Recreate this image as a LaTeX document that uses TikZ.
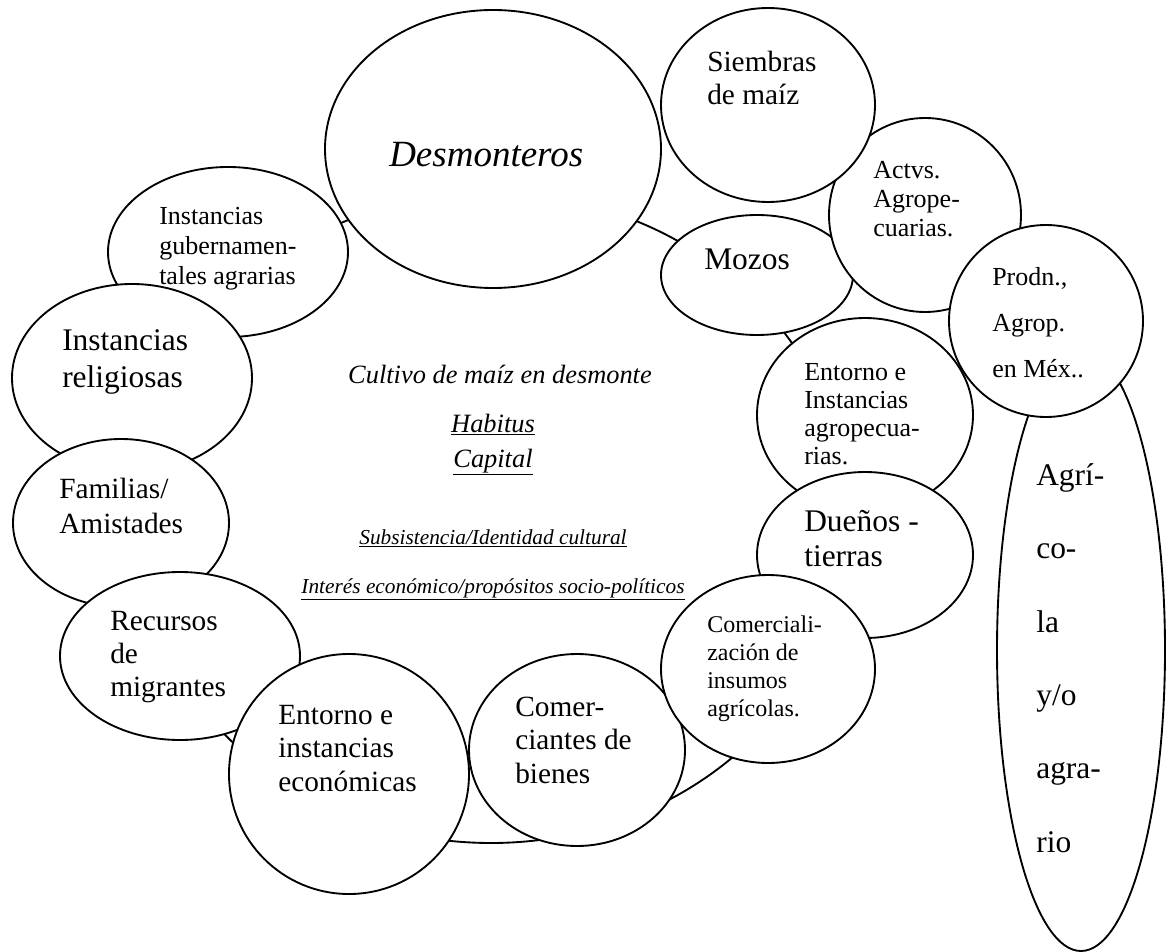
\documentclass[tikz,border=0pt]{standalone}
\usepackage{fontspec}
\setmainfont{Liberation Serif}
\usepackage{tikz}

\tikzset{
  bubble/.style={draw, line width=1.4pt, fill=white},
  lbl/.style={anchor=base west, inner sep=0pt, align=left},
  bigtxt/.style={font=\fontsize{23.6pt}{27.75pt}\selectfont},
  midtxt/.style={font=\fontsize{22pt}{25pt}\selectfont},
  smltxt/.style={font=\fontsize{19.5pt}{22.5pt}\selectfont},
  tnytxt/.style={font=\fontsize{18pt}{20.8pt}\selectfont}
}

\begin{document}
\begin{tikzpicture}[x=0.75pt, y=-0.75pt]
  \useasboundingbox (0,0) rectangle (1167,952);
  % outer ring behind the bubbles
  \draw[line width=1.4pt] (491,518) ellipse [x radius=357, y radius=325];

  % top (label coordinates give the baseline of the last line)
  \draw[bubble] (493,149) ellipse [x radius=168, y radius=139];
  \node[lbl, font=\fontsize{27.75pt}{32pt}\selectfont\itshape] (desmtxt) at (389,167) {Desmonteros};
  \draw[bubble] (757,275) ellipse [x radius=96, y radius=60];
  \node[lbl, bigtxt] (mozotxt) at (704,270) {Mozos};
  \draw[bubble] (925,215) ellipse [x radius=96, y radius=97];
  \node[lbl, font=\fontsize{19.5pt}{22pt}\selectfont] (actvtxt) at (873,237) {Actvs.\\Agrope-\\cuarias.};
  \draw[bubble] (768,105) ellipse [x radius=107, y radius=97];
  \node[lbl, font=\fontsize{22pt}{24.75pt}\selectfont] (siemtxt) at (707,105) {Siembras\\de maíz};

  % right side
  \draw[bubble] (1081,650) ellipse [x radius=84, y radius=301];
  \node[lbl, font=\fontsize{23.6pt}{55pt}\selectfont] (agritxt) at (1036,852)
    {Agrí-\\co-\\la\\y/o\\agra-\\rio};
  \draw[bubble] (865,415) ellipse [x radius=108, y radius=97];
  \node[lbl, font=\fontsize{19.5pt}{21pt}\selectfont] (agrotxt) at (804,464)
    {Entorno e\\Instancias\\agropecua-\\rias.};
  \draw[bubble] (1046,321) ellipse [x radius=97, y radius=96];
  \node[lbl, font=\fontsize{19.5pt}{34.5pt}\selectfont] (prodtxt) at (992,377) {Prodn.,\\Agrop.\\en Méx..};
  \draw[bubble] (865,555) ellipse [x radius=108, y radius=83];
  \node[lbl, font=\fontsize{23.6pt}{26.25pt}\selectfont] (duentxt) at (804,566) {Dueños -\\tierras};

  % left side
  \draw[bubble] (228,252) ellipse [x radius=120, y radius=85];
  \node[lbl, smltxt] (gubtxt) at (159,285) {Instancias\\gubernamen-\\tales agrarias};
  \draw[bubble] (132,378) ellipse [x radius=120, y radius=94];
  \node[lbl, bigtxt] (reltxt) at (62,387) {Instancias\\religiosas};
  \draw[bubble] (121,523) ellipse [x radius=108, y radius=84];
  \node[lbl, font=\fontsize{22pt}{26.25pt}\selectfont] (famtxt) at (59,533) {Familias/\\Amistades};
  \draw[bubble] (180,656) ellipse [x radius=120, y radius=84];
  \node[lbl, font=\fontsize{22pt}{24.75pt}\selectfont] (rectxt) at (110,696) {Recursos\\de\\migrantes};

  % bottom
  \draw[bubble] (349,774) ellipse [x radius=120, y radius=120];
  \node[lbl, midtxt] (econtxt) at (278,791) {Entorno e\\instancias\\económicas};
  \draw[bubble] (577,750) ellipse [x radius=108, y radius=96];
  \node[lbl, midtxt] (comtxt) at (515,783) {Comer-\\ciantes de\\bienes};
  \draw[bubble] (768,669) ellipse [x radius=107, y radius=94];
  \node[lbl, tnytxt] (comztxt) at (707,716) {Comerciali-\\zación de\\insumos\\agrícolas.};

  % centre
  \node[anchor=base, inner sep=0pt, font=\fontsize{19.8pt}{24pt}\selectfont\itshape] (cultxt) at (500,383)
    {Cultivo de maíz en desmonte};
  \node[anchor=base, inner sep=0pt, align=center, font=\fontsize{19.8pt}{26pt}\selectfont\itshape] (habtxt) at (493,467)
    {\underline{Habitus}\\\underline{Capital}};
  \node[anchor=base, inner sep=0pt, font=\fontsize{16pt}{19pt}\selectfont\itshape] (subtxt) at (493,544)
    {\underline{Subsistencia/Identidad cultural}};
  \node[anchor=base, inner sep=0pt, font=\fontsize{16pt}{19pt}\selectfont\itshape] (inttxt) at (493,593)
    {\underline{Interés económico/propósitos socio-políticos}};
\end{tikzpicture}
\end{document}
